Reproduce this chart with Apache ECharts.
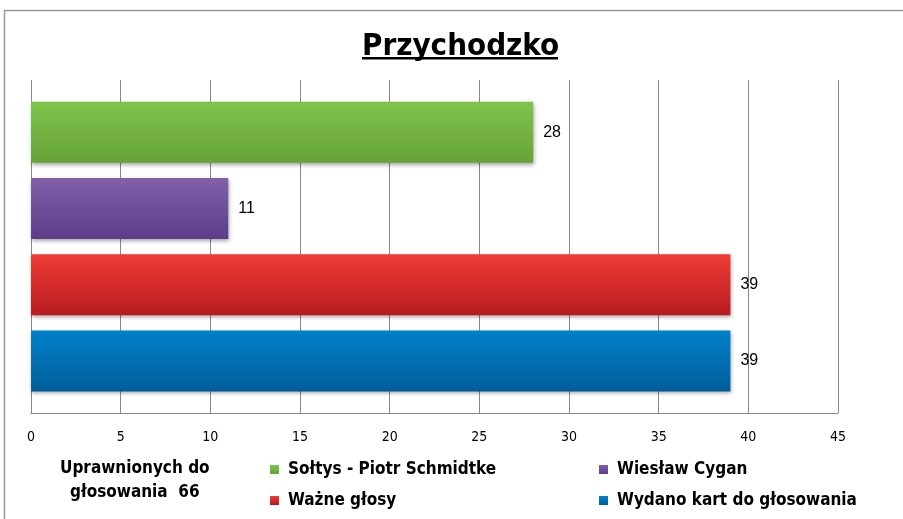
<!DOCTYPE html>
<html>
<head>
<meta charset="utf-8">
<script src="https://cdn.jsdelivr.net/npm/echarts@6/dist/echarts.min.js"></script>
<style>
html,body{margin:0;padding:0;background:#fff;}
#chart{width:903px;height:519px;}
</style>
</head>
<body>
<div id="chart"></div>
<script>
var category = ["Uprawnionych do głosowania 66"];
var seriesNames = ["Sołtys - Piotr Schmidtke", "Wiesław Cygan", "Ważne głosy", "Wydano kart do głosowania"];
var seriesValues = [28, 11, 39, 39];
var xTicks = { min: 0, max: 45, interval: 5 };

var gradients = [
	["#7ec44c", "#67a239"],
	["#8161aa", "#5d3c8a"],
	["#ef3c37", "#b81b1f"],
	["#0081c9", "#005d9a"]
];

var chart = echarts.init(document.getElementById("chart"));
var FONT = "DejaVu Sans Condensed";

var series = [];
for (var i = 0; i < seriesNames.length; i++)
{
	series.push({
		name: seriesNames[i],
		type: "bar",
		data: [seriesValues[i]],
		barWidth: 61,
		barGap: "25%",
		itemStyle: {
			color: new echarts.graphic.LinearGradient(0, 0, 0, 1, [
				{offset: 0, color: gradients[i][0]},
				{offset: 1, color: gradients[i][1]}
			]),
			shadowColor: "rgba(0,0,0,0.35)",
			shadowBlur: 4,
			shadowOffsetX: 1,
			shadowOffsetY: 2
		},
		label: {
			show: true,
			position: "right",
			distance: 10,
			color: "#000",
			fontFamily: "Liberation Sans",
			fontSize: 16
		}
	});
}

var legendText = {fontFamily: FONT, fontWeight: "bold", fontSize: 17, color: "#000", padding: [0, 0, 0, 4]};

chart.setOption({
	animation: false,
	title: {
		text: "Przychodzko",
		left: 357,
		top: 26,
		textStyle: {fontFamily: FONT, fontWeight: "bold", fontSize: 31, color: "#000"}
	},
	legend: [
		{
			data: [seriesNames[0], seriesNames[2]],
			orient: "vertical",
			left: 265, top: 456,
			itemWidth: 9, itemHeight: 9, itemGap: 14,
			icon: "rect",
			textStyle: legendText
		},
		{
			data: [seriesNames[1], seriesNames[3]],
			orient: "vertical",
			left: 594, top: 456,
			itemWidth: 9, itemHeight: 9, itemGap: 14,
			icon: "rect",
			textStyle: legendText
		}
	],
	grid: {left: 31, right: 65, top: 80, bottom: 106, containLabel: false},
	xAxis: {
		type: "value",
		min: xTicks.min, max: xTicks.max, interval: xTicks.interval,
		axisLine: {show: true, lineStyle: {color: "#888"}},
		axisTick: {show: false},
		axisLabel: {margin: 17, fontFamily: FONT, fontSize: 14, color: "#000"},
		splitLine: {show: true, lineStyle: {color: "#888", width: 1}}
	},
	yAxis: {
		type: "category",
		data: category,
		axisLine: {show: false},
		axisTick: {show: false},
		axisLabel: {show: false}
	},
	series: series,
	graphic: [
		{
			type: "rect",
			shape: {x: 4.5, y: 10.5, width: 1000, height: 1000},
			style: {fill: null, stroke: "#999", lineWidth: 1.5},
			silent: true
		},
		{
			type: "rect",
			shape: {x: 362, y: 57, width: 196, height: 2.5},
			style: {fill: "#000"},
			silent: true
		},
		{
			type: "text",
			left: 60, top: 457,
			style: {
				text: "Uprawnionych do\ngłosowania  66",
				font: "bold 17px '" + FONT + "'",
				fill: "#000",
				textAlign: "center",
				lineHeight: 24
			}
		}
	]
});
</script>
</body>
</html>
